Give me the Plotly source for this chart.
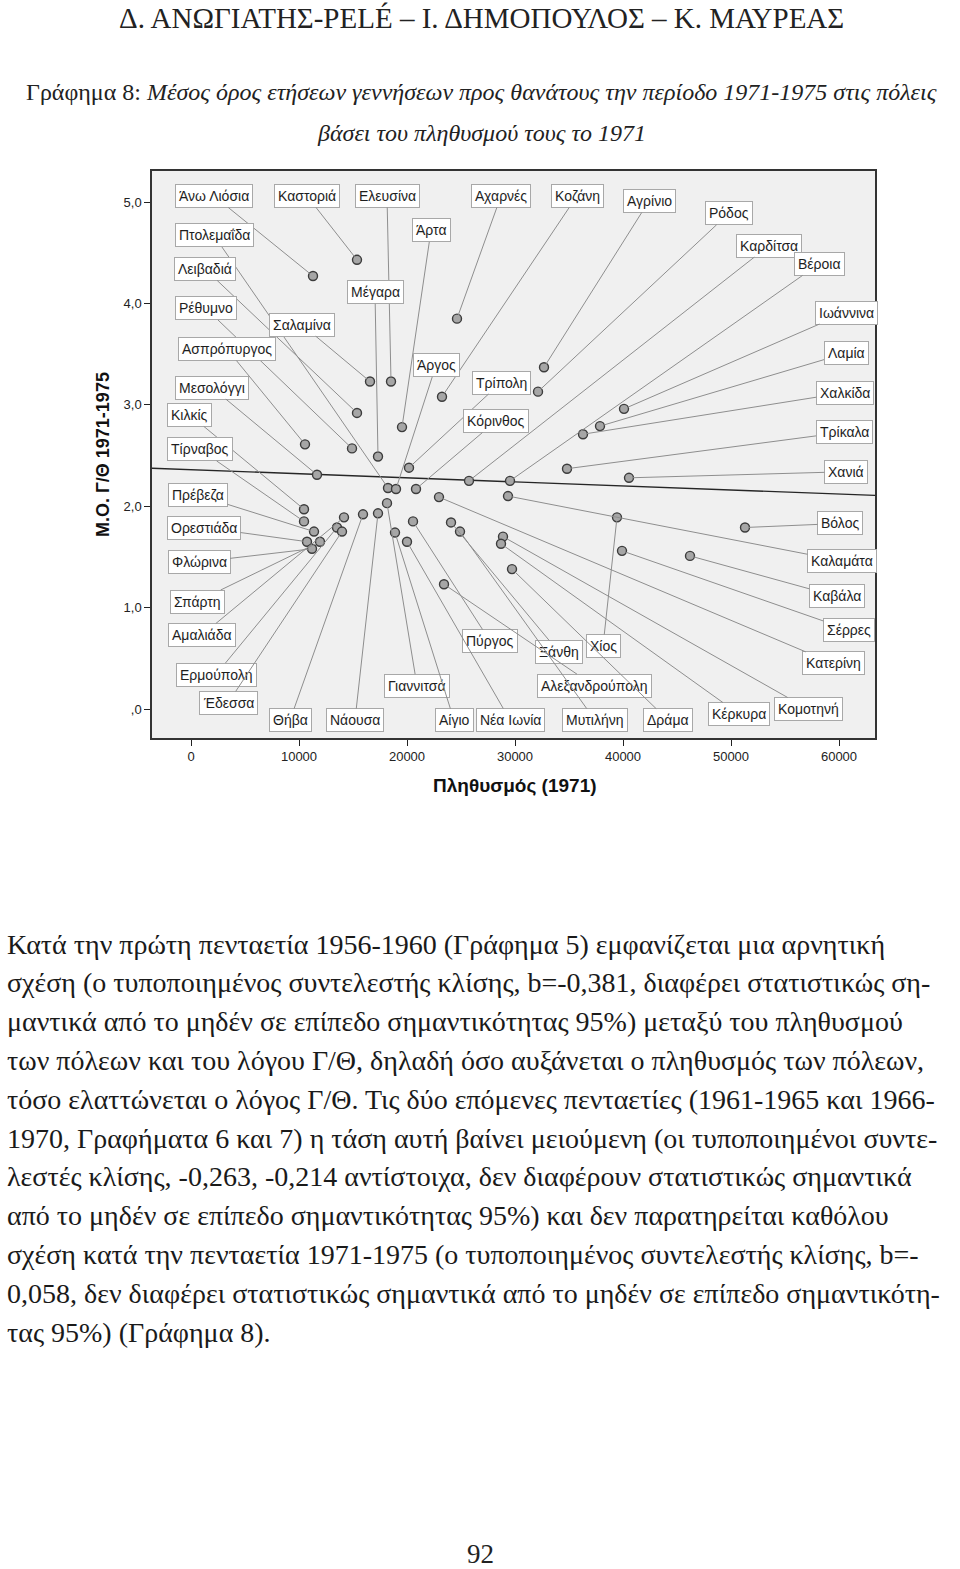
import plotly.graph_objects as go

# ---------------- data ----------------
cities = ["Άνω Λιόσια", "Καστοριά", "Ελευσίνα", "Αχαρνές", "Κοζάνη", "Αγρίνιο", "Ρόδος", "Άρτα",
          "Καρδίτσα", "Βέροια", "Πτολεμαΐδα", "Λειβαδιά", "Μέγαρα", "Ρέθυμνο", "Σαλαμίνα",
          "Ασπρόπυργος", "Ιωάννινα", "Λαμία", "Άργος", "Τρίπολη", "Μεσολόγγι", "Χαλκίδα",
          "Κιλκίς", "Κόρινθος", "Τρίκαλα", "Τίρναβος", "Χανιά", "Πρέβεζα", "Βόλος", "Ορεστιάδα",
          "Φλώρινα", "Καλαμάτα", "Σπάρτη", "Καβάλα", "Αμαλιάδα", "Σέρρες", "Πύργος", "Ξάνθη",
          "Χίος", "Κατερίνη", "Ερμούπολη", "Γιαννιτσά", "Αλεξανδρούπολη", "Έδεσσα", "Κομοτηνή",
          "Κέρκυρα", "Θήβα", "Νάουσα", "Αίγιο", "Νέα Ιωνία", "Μυτιλήνη", "Δράμα"]
population_1971 = [11296, 15370, 18519, 24630, 23241, 32685, 32130, 19537,
                   25741, 29537, 18241, 15370, 17315, 14907, 16574,
                   10556, 40093, 37870, 18981, 20185, 11667, 36296,
                   10463, 20833, 34815, 10463, 40556, 11389, 51296, 10741,
                   11204, 29352, 11944, 46204, 14167, 39907, 20556, 24074,
                   39444, 22963, 13519, 18148, 23426, 13981, 28889,
                   28704, 15926, 17315, 18889, 20000, 24907, 29722]
birth_death_ratio = [4.27, 4.43, 3.23, 3.85, 3.08, 3.37, 3.13, 2.78,
                     2.25, 2.25, 2.18, 2.92, 2.49, 2.57, 3.23,
                     2.61, 2.96, 2.79, 2.17, 2.38, 2.31, 2.71,
                     1.97, 2.17, 2.37, 1.85, 2.28, 1.75, 1.79, 1.65,
                     1.58, 2.10, 1.65, 1.51, 1.89, 1.56, 1.85, 1.84,
                     1.89, 2.09, 1.79, 2.03, 1.23, 1.75, 1.70,
                     1.63, 1.92, 1.93, 1.74, 1.65, 1.75, 1.38]
# label box centres, in data units
label_x = [2130, 10741, 18148, 28704, 35741, 42407, 49815, 22222,
           53519, 58148, 2130, 1296, 17037, 1389, 10278,
           3333, 60648, 60648, 22685, 28704, 1944, 60556,
           -93, 28241, 60463, 833, 60648, 648, 60093, 1204,
           741, 60278, 556, 59815, 1019, 60926, 27685, 34074,
           38148, 59444, 2315, 20926, 37315, 3426, 57130,
           50741, 9167, 15185, 24352, 29537, 37407, 44167]
label_y = [5.06, 5.06, 5.06, 5.06, 5.06, 5.01, 4.89, 4.72,
           4.57, 4.39, 4.67, 4.34, 4.11, 3.95, 3.79,
           3.55, 3.91, 3.51, 3.39, 3.22, 3.17, 3.12,
           2.90, 2.84, 2.73, 2.56, 2.34, 2.11, 1.83, 1.79,
           1.45, 1.46, 1.06, 1.11, 0.73, 0.78, 0.67, 0.56,
           0.62, 0.45, 0.34, 0.23, 0.23, 0.06, 0.00,
           -0.05, -0.11, -0.11, -0.11, -0.11, -0.11, -0.11]
fit_intercept = 2.36
fit_slope = -0.0000040

x_ticks = [0, 10000, 20000, 30000, 40000, 50000, 60000]
y_ticks = [0, 1, 2, 3, 4, 5]
y_tick_text = [",0", "1,0", "2,0", "3,0", "4,0", "5,0"]

header = "Δ. ΑΝΩΓΙΑΤΗΣ-PELÉ – Ι. ΔΗΜΟΠΟΥΛΟΣ – Κ. ΜΑΥΡΕΑΣ"
caption_1 = "Γράφημα 8: <i>Μέσος όρος ετήσεων γεννήσεων προς θανάτους την περίοδο 1971-1975 στις πόλεις</i>"
caption_2 = "<i>βάσει του πληθυσμού τους το 1971</i>"
body_lines = [
    "Κατά την πρώτη πενταετία 1956-1960 (Γράφημα 5) εμφανίζεται μια αρνητική",
    "σχέση (ο τυποποιημένος συντελεστής κλίσης, b=-0,381, διαφέρει στατιστικώς ση-",
    "μαντικά από το μηδέν σε επίπεδο σημαντικότητας 95%) μεταξύ του πληθυσμού",
    "των πόλεων και του λόγου Γ/Θ, δηλαδή όσο αυξάνεται ο πληθυσμός των πόλεων,",
    "τόσο ελαττώνεται ο λόγος Γ/Θ. Τις δύο επόμενες πενταετίες (1961-1965 και 1966-",
    "1970, Γραφήματα 6 και 7) η τάση αυτή βαίνει μειούμενη (οι τυποποιημένοι συντε-",
    "λεστές κλίσης, -0,263, -0,214 αντίστοιχα, δεν διαφέρουν στατιστικώς σημαντικά",
    "από το μηδέν σε επίπεδο σημαντικότητας 95%) και δεν παρατηρείται καθόλου",
    "σχέση κατά την πενταετία 1971-1975 (ο τυποποιημένος συντελεστής κλίσης, b=-",
    "0,058, δεν διαφέρει στατιστικώς σημαντικά από το μηδέν σε επίπεδο σημαντικότη-",
    "τας 95%) (Γράφημα 8).",
]
page_number = "92"

# ---------------- layout helpers (page pixel coordinates) ----------------
W, H = 960, 1569
PL, PR, PT, PB = 152, 875, 171, 738   # plot frame on the page


def pxx(x):
    return (x - PL) / (PR - PL)


def pxy(y):
    return (PB - y) / (PB - PT)


X_RANGE = [-3611, 63333]
Y_RANGE = [-0.286, 5.306]

SANS = "Liberation Sans, Arial, sans-serif"
SERIF = "Liberation Serif, Times New Roman, serif"

fig = go.Figure()

fig.add_trace(go.Scatter(
    x=X_RANGE, y=[fit_intercept + fit_slope * v for v in X_RANGE],
    mode="lines", line=dict(color="#262626", width=1.4), hoverinfo="skip", showlegend=False))

fig.add_trace(go.Scatter(
    x=population_1971, y=birth_death_ratio, mode="markers",
    marker=dict(size=9, color="#a6a6a6", line=dict(color="#3c3c3c", width=1.4)),
    hoverinfo="skip", showlegend=False))

for name, x, y, lx, ly in zip(cities, population_1971, birth_death_ratio, label_x, label_y):
    fig.add_annotation(
        x=x, y=y, xref="x", yref="y", ax=lx, ay=ly, axref="x", ayref="y",
        text=name, showarrow=True, arrowhead=0, arrowwidth=1, arrowcolor="#8e8e8e",
        standoff=4, bgcolor="white", bordercolor="#a8a8a8", borderwidth=1, borderpad=3,
        font=dict(family=SANS, size=14, color="#1e1e1e"))

# texts around the chart
fig.add_annotation(x=pxx(481), y=pxy(18), xref="paper", yref="paper", text=header,
                   showarrow=False, xanchor="center", yanchor="middle",
                   font=dict(family=SERIF, size=29, color="#222"))
fig.add_annotation(x=pxx(481), y=pxy(92), xref="paper", yref="paper", text=caption_1,
                   showarrow=False, xanchor="center", yanchor="middle",
                   font=dict(family=SERIF, size=24, color="#222"))
fig.add_annotation(x=pxx(481), y=pxy(133), xref="paper", yref="paper", text=caption_2,
                   showarrow=False, xanchor="center", yanchor="middle",
                   font=dict(family=SERIF, size=24, color="#222"))
fig.add_annotation(x=pxx(103), y=pxy(455), xref="paper", yref="paper",
                   text="<b>Μ.Ο. Γ/Θ 1971-1975</b>", textangle=-90, showarrow=False,
                   xanchor="center", yanchor="middle",
                   font=dict(family=SANS, size=18, color="#111"))
fig.add_annotation(x=pxx(515), y=pxy(785), xref="paper", yref="paper",
                   text="<b>Πληθυσμός (1971)</b>", showarrow=False,
                   xanchor="center", yanchor="middle",
                   font=dict(family=SANS, size=19, color="#111"))

for i, line in enumerate(body_lines):
    fig.add_annotation(x=pxx(5), y=pxy(944 + i * 38.8), xref="paper", yref="paper",
                       text=line, showarrow=False, xanchor="left", yanchor="middle",
                       font=dict(family=SERIF, size=28, color="#1a1a1a"))
fig.add_annotation(x=pxx(480), y=pxy(1554), xref="paper", yref="paper", text=page_number,
                   showarrow=False, xanchor="center", yanchor="middle",
                   font=dict(family=SERIF, size=27, color="#222"))

fig.update_layout(
    width=W, height=H, autosize=False,
    margin=dict(l=PL, r=W - PR, t=PT, b=H - PB, pad=0),
    paper_bgcolor="white", plot_bgcolor="#f0f0f0",
    showlegend=False,
    xaxis=dict(range=X_RANGE, tickvals=x_ticks, ticktext=[str(v) for v in x_ticks],
               ticks="outside", ticklen=6, tickcolor="#222", showgrid=False, zeroline=False,
               showline=True, linecolor="#333", linewidth=1.5, mirror=True,
               tickfont=dict(family=SANS, size=13, color="#222")),
    yaxis=dict(range=Y_RANGE, tickvals=y_ticks, ticktext=y_tick_text,
               ticks="outside", ticklen=6, tickcolor="#222", showgrid=False, zeroline=False,
               showline=True, linecolor="#333", linewidth=1.5, mirror=True,
               tickfont=dict(family=SANS, size=13, color="#222")),
)

fig.write_html("out.html", config={"displayModeBar": False},
               post_script="document.body.style.margin='0px';document.body.style.overflow='hidden';")
